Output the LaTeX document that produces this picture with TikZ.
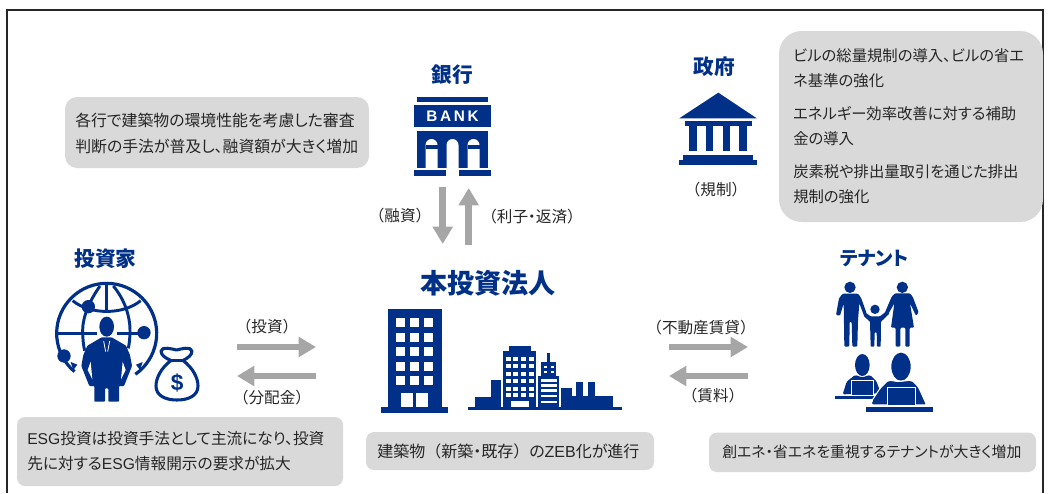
\documentclass[tikz,border=0pt]{standalone}
\usepackage{fontspec}
\setmainfont{Noto Sans CJK JP}[RawFeature={+palt}]
\newfontfamily\latf{Liberation Sans}
\newfontfamily\fullw{Noto Sans CJK JP}
\newcommand{\LPar}{{\fullw （}}
\newcommand{\RPar}{{\fullw ）}}
\usetikzlibrary{arrows.meta}
\definecolor{navy}{HTML}{003087}
\definecolor{panel}{HTML}{D9D9D9}
\definecolor{arrowgray}{HTML}{A6A6A6}
\definecolor{ink}{HTML}{262626}
\tikzset{
 x=.75pt,y=-.75pt,
 bodytext/.style={anchor=west,inner sep=0pt,text=ink,font=\fontsize{#1}{13}\selectfont},
 smalltext/.style={inner sep=0pt,text=ink,font=\fontsize{11.7}{13}\selectfont},
 titletext/.style={inner sep=0pt,text=navy,font=\bfseries\fontsize{#1}{18}\selectfont},
 bigtitle/.style={inner sep=0pt,text=navy,font=\bfseries\fontsize{20.3}{22}\selectfont},
 flow/.style={draw=arrowgray,line width=5pt,-{Triangle[length=13pt,width=14.5pt]}},
 ic/.style={fill=navy},
 hole/.style={fill=white},
 zoomed/.style={x=.25pt,y=-.25pt},
}
\begin{document}
\begin{tikzpicture}
\useasboundingbox (0,0) rectangle (1049,493);
\draw[ink,line width=1.5pt] (7,493) -- (7,9.5) -- (1043,9.5) -- (1043,493);
% panels
\fill[panel,rounded corners=9pt] (65,97) rectangle (369,168);
\fill[panel,rounded corners=17pt] (779,31) rectangle (1043,222);
\fill[panel,rounded corners=6pt] (17,417) rectangle (343,486);
\fill[panel,rounded corners=6pt] (366,432) rectangle (654,470);
\fill[panel,rounded corners=6pt] (709,432.5) rectangle (1036,472);
% panel text
\node[bodytext=11.9] (t1) at (75,120) {各行で建築物の環境性能を考慮した審査};
\node[bodytext=11.9] (t2) at (75,146) {判断の手法が普及し、融資額が大きく増加};
\node[bodytext=11.5] (g1) at (793,56) {ビルの総量規制の導入、ビルの省エ};
\node[bodytext=11.5] (g2) at (793,81) {ネ基準の強化};
\node[bodytext=11.5] (g3) at (793,114) {エネルギー効率改善に対する補助};
\node[bodytext=11.5] (g4) at (793,139) {金の導入};
\node[bodytext=11.5] (g5) at (793,172) {炭素税や排出量取引を通じた排出};
\node[bodytext=11.5] (g6) at (793,197) {規制の強化};
\node[bodytext=11.75] (i1) at (27,439) {{\latf ESG}投資は投資手法として主流になり、投資};
\node[bodytext=11.75] (i2) at (27,464) {先に対する{\latf ESG}情報開示の要求が拡大};
\node[bodytext=12] (c1) at (377,451) {建築物\LPar 新築・既存\RPar の{\latf ZEB}化が進行};
\node[bodytext=11.15] (n1) at (722,452) {創エネ・省エネを重視するテナントが大きく増加};
% titles
\node[titletext=15.5] (bank) at (452.5,75) {銀行};
\node[titletext=15.5] (gov) at (714.5,67) {政府};
\node[titletext=15.5] (inv) at (105.5,259) {投資家};
\node[titletext=14.4] (ten) at (874.5,259) {テナント};
\node[bigtitle] (corp) at (488,283) {本投資法人};
% labels
\node[smalltext] (l1) at (400,216) {\LPar 融資\RPar};
\node[smalltext] (l2) at (532,217) {\LPar 利子・返済\RPar};
\node[smalltext] (l3) at (716,190) {\LPar 規制\RPar};
\node[smalltext] (l4) at (267,327) {\LPar 投資\RPar};
\node[smalltext] (l5) at (272,398) {\LPar 分配金\RPar};
\node[smalltext] (l6) at (701,328) {\LPar 不動産賃貸\RPar};
\node[smalltext] (l7) at (713,396) {\LPar 賃料\RPar};
% flow arrows
\coordinate (a1s) at (442.7,187); \coordinate (a1e) at (442.7,244);
\coordinate (a2s) at (468.7,245); \coordinate (a2e) at (468.7,188);
\coordinate (a3s) at (237,347); \coordinate (a3e) at (316,347);
\coordinate (a4s) at (316,376); \coordinate (a4e) at (237,376);
\coordinate (a5s) at (669,347); \coordinate (a5e) at (748,347);
\coordinate (a6s) at (748,376); \coordinate (a6e) at (669,376);
\foreach \s/\e in {a1s/a1e,a2s/a2e,a3s/a3e,a4s/a4e,a5s/a5e,a6s/a6e}
 \draw[flow] (\s) -- (\e);
% bank icon
\fill[ic] (417,97) rectangle (488,102);
\fill[ic] (413.7,105) rectangle (491.3,127);
\fill[ic] (417,131) rectangle (488,168);
\fill[ic] (413.7,170) rectangle (446,175.5);
\fill[ic] (459,170) rectangle (491.3,175.5);
\foreach \x/\b in {425.5/168,446.5/176,467.5/168}
 \fill[hole] (\x,\b) -- (\x,145) arc[start angle=180,end angle=360,radius=6] -- (\x+12,\b) -- cycle;
\fill[ic] (425.5,145.3) rectangle (437.5,149.3);
\fill[ic] (467.5,145.3) rectangle (479.5,149.3);
\node[inner sep=0pt,text=white,font=\latf\bfseries\fontsize{11.5}{12}\selectfont] (banktxt) at (452.5,116) {B\hspace{2pt}A\hspace{2pt}N\hspace{2pt}K};
% government icon
\fill[ic] (679.3,118.3) -- (718.3,92.7) -- (756.7,118.3) -- cycle;
\fill[ic] (685,121) rectangle (751.7,126);
\foreach \x in {689.3,706,722.5,739.2}{\fill[ic] (\x,126) rectangle (\x+7.4,151);}
\fill[ic] (683.3,155.3) rectangle (752.7,160);
\fill[ic] (679.3,160) rectangle (756.7,164.5);
% investor globe (zoomed units: 1/3 px)
\begin{scope}[shift={(50,280)},zoomed]
\draw[navy,line width=2.4pt] (170,160) ++(130:150) arc[start angle=130,end angle=415,radius=150];
\draw[navy,line width=2.2pt] (170,12) -- (170,97);
\draw[navy,line width=2.2pt] (150,18) .. controls (120,60) and (98,110) .. (98,150) .. controls (98,175) and (100,195) .. (104,212);
\draw[navy,line width=2.2pt] (190,18) .. controls (225,60) and (240,110) .. (240,150) .. controls (240,175) and (238,190) .. (235,205);
\draw[navy,line width=2.2pt] (68,62) .. controls (120,105) and (220,105) .. (272,62);
\draw[navy,line width=2.2pt] (25,160) -- (140,160);
\draw[navy,line width=2.2pt] (200,160) -- (280,160);
\fill[ic] (115,80) circle (20);
\fill[ic] (282,158) circle (20);
\fill[ic] (42,228) circle (20);
\fill[ic] (62,246) -- (82,254) -- (70,270) -- cycle;
\fill[ic] (278,246) -- (258,254) -- (270,270) -- cycle;
% man
\fill[ic] (170,140) ellipse (22 and 30);
\fill[ic,rounded corners=.6pt] (155,172) -- (112,197) -- (100,225) -- (94,258) -- (118,318) -- (133,318) -- (133,365) -- (165,365) -- (165,325) -- (175,325) -- (175,365) -- (207,365) -- (207,318) -- (222,318) -- (246,258) -- (240,225) -- (228,197) -- (185,172) -- cycle;
\fill[hole] (122,245) -- (113,270) -- (127,298) -- cycle;
\fill[hole] (218,245) -- (227,270) -- (213,298) -- cycle;
\draw[white,line width=.6pt] (161,183) -- (167,215);
\draw[white,line width=.6pt] (179,183) -- (173,215);
\end{scope}
% money bag
\draw[navy,line width=2.3pt,fill=white,line join=round] (171,360.5) .. controls (165,358) and (161,355) .. (161,351) .. controls (162,346) and (172,349) .. (176.5,350) .. controls (181,349) and (191,346) .. (192,351) .. controls (192,355) and (188,358) .. (183,360.5) .. controls (193,368) and (198,378) .. (198,386) .. controls (198,396) and (188,400) .. (177,400) .. controls (166,400) and (156,396) .. (156,386) .. controls (156,378) and (161,368) .. (171,360.5) -- cycle;
\draw[navy,line width=2pt] (171,360.5) -- (183,360.5);
\node[inner sep=0pt,text=navy,font=\latf\bfseries\fontsize{17}{18}\selectfont] (dollar) at (177.3,383) {\$};
% tower
\fill[ic] (388,308.5) rectangle (441.7,408);
\fill[ic] (381,407) rectangle (448,413);
\foreach \x in {396,410,424}\foreach \y in {318,332.7,347,361.7,376}{\fill[hole] (\x,\y) rectangle (\x+9,\y+9);}
\fill[hole] (401,393) rectangle (413,407);
\fill[hole] (416,393) rectangle (428,407);
% city
\fill[ic] (468,407) rectangle (622,410);
\fill[ic] (475,397) rectangle (491,408);
\fill[ic] (490.7,380) rectangle (501,408);
\fill[ic] (502.7,351) rectangle (536,408);
\fill[ic] (508.7,345.7) rectangle (530.7,351);
\fill[ic] (538,375.7) rectangle (559,408);
\fill[ic] (540.7,362) rectangle (556,376);
\fill[ic] (547.3,352.7) rectangle (550,362);
\fill[ic] (561,388) rectangle (571.7,408);
\fill[ic] (571.7,396) rectangle (613,408);
\fill[ic] (576,382) rectangle (583,396);
\fill[ic] (588,382) rectangle (595,396);
\foreach \x in {505.7,513.2,521,528.7}\foreach \y in {356.7,364,371.7,379.3,386.7,392.7}{\fill[hole] (\x,\y) rectangle (\x+5,\y+4);}
\fill[hole] (510.7,401) rectangle (529,407);
\foreach \x in {544,551}\foreach \y in {366,371}{\fill[hole] (\x,\y) rectangle (\x+3,\y+2.2);}
\foreach \y in {379.3,384.3,389.3,395,400.7}{\fill[hole] (540.7,\y) rectangle (556.7,\y+2.3);}
% tenant family
\begin{scope}[shift={(830,275)},zoomed]
\fill[ic] (60,37) circle (17);
\fill[ic] (217,37) circle (17);
\fill[ic] (135,103) circle (14);
\fill[ic,rounded corners=.8pt] (38,56) -- (84,56) -- (93,68) -- (110,115) -- (102,122) -- (88,85) -- (84,135) -- (82,215) -- (67,215) -- (65,140) -- (59,140) -- (58,215) -- (43,215) -- (41,85) -- (30,122) -- (18,120) -- (27,70) -- cycle;
\fill[ic,rounded corners=.8pt] (195,55) -- (240,55) -- (248,65) -- (266,112) -- (258,122) -- (240,85) -- (252,158) -- (239,158) -- (239,215) -- (226,215) -- (226,158) -- (211,158) -- (211,215) -- (197,215) -- (197,158) -- (183,158) -- (193,85) -- (172,122) -- (165,112) -- (185,65) -- cycle;
\fill[ic,rounded corners=.6pt] (122,124) -- (150,124) -- (170,108) -- (178,116) -- (153,140) -- (152,215) -- (141,215) -- (140,172) -- (134,172) -- (133,215) -- (122,215) -- (120,140) -- (100,122) -- (105,112) -- cycle;
\end{scope}
% tenant workers
\begin{scope}[shift={(830,345)},zoomed]
\fill[ic] (97,60) ellipse (22 and 33);
\fill[ic,rounded corners=1pt] (38,148) -- (50,110) -- (75,90) -- (97,97) -- (120,90) -- (140,110) -- (152,145) -- cycle;
\draw[white,line width=.7pt,fill=navy] (65,107) rectangle (130,152);
\fill[ic] (16,152) rectangle (150,163);
\fill[ic] (213,65) ellipse (29 and 42);
\draw[white,line width=.8pt,fill=navy,rounded corners=1.5pt] (124,180) -- (125,168) -- (150,130) -- (175,105) -- (205,110) -- (245,105) -- (265,125) -- (290,180) -- cycle;
\draw[white,line width=.9pt,fill=navy] (172,128) rectangle (257,183);
\fill[ic] (107,187) rectangle (310,200);
\end{scope}
\end{tikzpicture}
\end{document}
